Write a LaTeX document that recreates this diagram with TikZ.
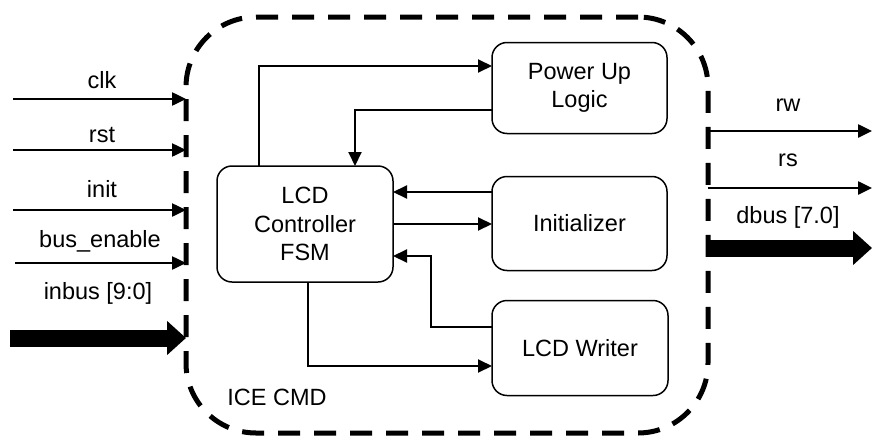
\documentclass[tikz,border=0pt]{standalone}
\usepackage{fontspec}
\setmainfont{Liberation Sans}
\usetikzlibrary{arrows.meta}
\begin{document}
\begin{tikzpicture}[x=1pt,y=-1pt,
  font=\fontsize{23.5}{28.5}\selectfont,
  blk/.style={draw, line width=1.5pt, rounded corners=15pt, align=center, inner sep=0pt, outer sep=0pt},
  conn/.style={line width=2pt, -{Triangle[length=14pt,width=13pt]}},
  sig/.style={line width=2.5pt, -{Triangle[length=14pt,width=13pt]}},
  bus/.style={line width=17pt, -{Triangle[length=19pt,width=33pt]}},
  lbl/.style={inner sep=0pt}]
\useasboundingbox (0,0) rectangle (872,439);
% outer dashed boundary
\node[draw, line width=5pt, dash pattern=on 22pt off 14pt, rounded corners=70pt,
  minimum width=522pt, minimum height=416pt, inner sep=0pt, outer sep=0pt] (ice) at (447,225) {};
\node[lbl] (icelbl) at (277,397) {ICE CMD};
% blocks
\node[blk, minimum width=176pt, minimum height=116pt] (fsm) at (305,224) {LCD\\Controller\\FSM};
\node[blk, minimum width=175pt, minimum height=91pt] (pul) at (579.5,88) {Power Up\\Logic};
\node[blk, minimum width=175pt, minimum height=94pt] (ini) at (579.5,223.5) {Initializer};
\node[blk, minimum width=176pt, minimum height=95pt] (lw) at (580,348) {LCD Writer};
% internal connectors
\draw[conn] ([xshift=-46pt]fsm.north) |- ([yshift=22pt]pul.west);
\draw[conn] ([yshift=-22pt]pul.west) -| ([xshift=50pt]fsm.north);
\coordinate (a1) at ([yshift=31.5pt]ini.west);
\draw[conn] (a1) -- (a1 -| fsm.east);
\draw[conn] (fsm.east) -- (fsm.east -| ini.west);
\coordinate (b0) at ([yshift=21pt]lw.west);
\coordinate (b1) at (431,256);
\draw[conn] (b0) -| (b1) -- (b1 -| fsm.east);
\draw[conn] ([xshift=3pt]fsm.south) |- ([yshift=-18pt]lw.west);
% inputs
\coordinate (clk0) at (13,99);
\coordinate (rst0) at (13,150);
\coordinate (init0) at (13,210);
\coordinate (be0) at (15,263);
\coordinate (inb0) at (10,338);
\draw[sig] (clk0) -- (clk0 -| ice.west);
\draw[sig] (rst0) -- (rst0 -| ice.west);
\draw[sig] (init0) -- (init0 -| ice.west);
\draw[sig] (be0) -- (be0 -| ice.west);
\draw[bus] (inb0) -- (inb0 -| ice.west);
\node[lbl] (lclk) at (102,80) {clk};
\node[lbl] (lrst) at (102,135) {rst};
\node[lbl] (linit) at (102,189) {init};
\node[lbl] (lbe) at (100,241) {bus\_enable};
\node[lbl] (linb) at (98,293) {inbus [9:0]};
% outputs
\coordinate (rw1) at (872,131);
\coordinate (rs1) at (872,188);
\coordinate (db1) at (872,248);
\draw[sig] (rw1 -| ice.east) -- (rw1);
\draw[sig] (rs1 -| ice.east) -- (rs1);
\draw[bus] (db1 -| ice.east) -- (db1);
\node[lbl] (lrw) at (788,105) {rw};
\node[lbl] (lrs) at (788,160) {rs};
\node[lbl] (ldb) at (788,217) {dbus [7.0]};
\end{tikzpicture}
\end{document}
